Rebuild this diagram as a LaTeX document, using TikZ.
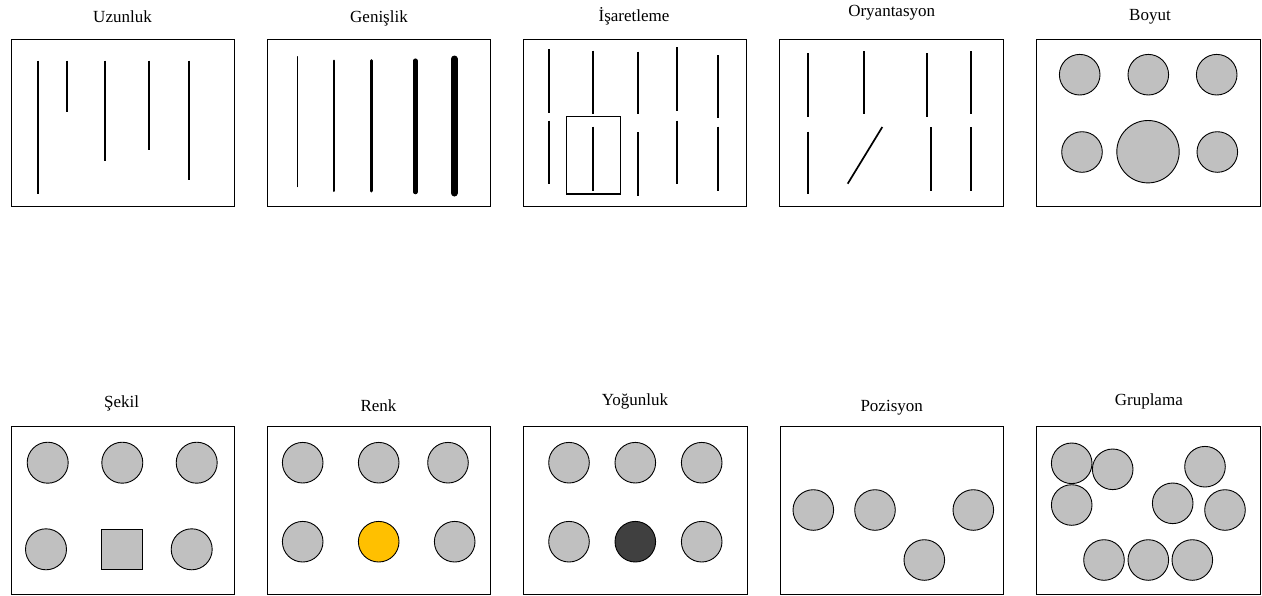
\documentclass[tikz,border=0pt]{standalone}
\usepackage{fontspec}
\setmainfont{Liberation Serif}
\definecolor{dotgray}{HTML}{C0C0C0}
\definecolor{dotyellow}{HTML}{FFC000}
\definecolor{dotdark}{HTML}{404040}

\begin{document}
\begin{tikzpicture}[x=1pt,y=-1pt,
  every node/.style={font=\fontsize{17}{20}\selectfont,inner sep=0pt,anchor=base},
  panel/.style={draw,line width=1pt},
  bar/.style={line width=1.7pt},
  dot/.style={draw,line width=0.9pt,fill=dotgray}]
  \useasboundingbox (0,0) rectangle (1262,595);

  % top row
  \node (tUzun) at (122.5,22.7) {Uzunluk};
  \draw[panel] (11,39) rectangle (234,206);
  \draw[bar] (38.3,60.7) -- (38.3,194);
  \draw[bar] (67,60.7) -- (67,112);
  \draw[bar] (105,60.7) -- (105,161);
  \draw[bar] (149,60.7) -- (149,150);
  \draw[bar] (189,60.7) -- (189,180);

  \node (tGenis) at (379,22) {Genişlik};
  \draw[panel] (267.3,39) rectangle (490.7,206);
  \draw[line width=1pt,line cap=round] (297.7,56.7) -- (297.7,186.7);
  \draw[line width=2pt,line cap=round] (333.7,60.7) -- (333.7,191);
  \draw[line width=3pt,line cap=round] (371,60.7) -- (371,191);
  \draw[line width=4.5pt,line cap=round] (415.3,60.7) -- (415.3,192);
  \draw[line width=7pt,line cap=round] (454.3,59) -- (454.3,193);

  \node (tIsaret) at (634,21.7) {İşaretleme};
  \draw[panel] (523.3,39) rectangle (746.7,206);
  \draw[bar] (549,49.3) -- (549,112.7);
  \draw[bar] (593.3,50.7) -- (593.3,114);
  \draw[bar] (637.7,51.7) -- (637.7,114.3);
  \draw[bar] (676.7,47.3) -- (676.7,110.7);
  \draw[bar] (718.3,55) -- (718.3,118.3);
  \draw[bar] (549,120.7) -- (549,183.7);
  \draw[bar] (593.3,126.7) -- (593.3,190.7);
  \draw[bar] (637.7,132.3) -- (637.7,195.7);
  \draw[bar] (676.7,120.7) -- (676.7,183.7);
  \draw[bar] (718.3,126.7) -- (718.3,190.7);
  \draw[line width=1.4pt] (566.7,116.3) rectangle (620.3,194);

  \node (tOryan) at (891.7,16.5) {Oryantasyon};
  \draw[panel] (779.3,39) rectangle (1003,206);
  \draw[bar] (807.7,53.3) -- (807.7,116.7);
  \draw[bar] (864.3,51) -- (864.3,114.3);
  \draw[bar] (926.7,53.3) -- (926.7,116.7);
  \draw[bar] (970.7,51) -- (970.7,114.3);
  \draw[bar] (807.7,131.7) -- (807.7,194.3);
  \draw[bar] (847.7,183.7) -- (882.3,127);
  \draw[bar] (930.7,127) -- (930.7,190.7);
  \draw[bar] (970.7,127) -- (970.7,190.7);

  \node (tBoyut) at (1150,20.7) {Boyut};
  \draw[panel] (1036,39) rectangle (1260.5,206);
  \draw[dot] (1079.7,74.7) circle[radius=20.3pt];
  \draw[dot] (1148.3,74.7) circle[radius=20.3pt];
  \draw[dot] (1216.7,74.7) circle[radius=20.3pt];
  \draw[dot] (1082,152) circle[radius=20.3pt];
  \draw[dot] (1148,151.7) circle[radius=31.2pt];
  \draw[dot] (1217.3,152) circle[radius=20.3pt];

  % bottom row
  \node (tSekil) at (121.7,407.7) {Şekil};
  \draw[panel] (11,426.7) rectangle (234,594.3);
  \draw[dot] (47.7,462.7) circle[radius=20.5pt];
  \draw[dot] (122.3,462.7) circle[radius=20.5pt];
  \draw[dot] (196.7,462.7) circle[radius=20.5pt];
  \draw[dot] (46,549.3) circle[radius=20.5pt];
  \draw[dot] (101.7,529.3) rectangle (142.7,569.3);
  \draw[dot] (191.7,549.3) circle[radius=20.5pt];

  \node (tRenk) at (378.5,411) {Renk};
  \draw[panel] (267.3,426.7) rectangle (490.7,594.3);
  \draw[dot] (302.7,462.7) circle[radius=20.3pt];
  \draw[dot] (378.7,462.7) circle[radius=20.3pt];
  \draw[dot] (448,462.7) circle[radius=20.3pt];
  \draw[dot] (302.7,541.7) circle[radius=20.3pt];
  \draw[dot,fill=dotyellow] (378.7,541.7) circle[radius=20.3pt];
  \draw[dot] (454.7,541.7) circle[radius=20.3pt];

  \node (tYogun) at (635,405) {Yoğunluk};
  \draw[panel] (523.3,426.7) rectangle (747,594.3);
  \draw[dot] (569,462.7) circle[radius=20.3pt];
  \draw[dot] (635.3,462.7) circle[radius=20.3pt];
  \draw[dot] (701.7,462.7) circle[radius=20.3pt];
  \draw[dot] (569,541.7) circle[radius=20.3pt];
  \draw[dot,fill=dotdark] (635.3,541.7) circle[radius=20.3pt];
  \draw[dot] (701.7,541.7) circle[radius=20.3pt];

  \node (tPozis) at (891.7,411) {Pozisyon};
  \draw[panel] (780,426.7) rectangle (1003.3,594.3);
  \draw[dot] (813.3,510) circle[radius=20.3pt];
  \draw[dot] (875,510) circle[radius=20.3pt];
  \draw[dot] (973.3,510) circle[radius=20.3pt];
  \draw[dot] (924.3,560) circle[radius=20.3pt];

  \node (tGrup) at (1148.8,405.7) {Gruplama};
  \draw[panel] (1036.7,426.7) rectangle (1260.5,594.3);
  \draw[dot] (1071.7,463.3) circle[radius=20.3pt];
  \draw[dot] (1112.7,469.3) circle[radius=20.3pt];
  \draw[dot] (1071.7,505) circle[radius=20.3pt];
  \draw[dot] (1205,466.7) circle[radius=20.3pt];
  \draw[dot] (1172.7,503.3) circle[radius=20.3pt];
  \draw[dot] (1225,510) circle[radius=20.3pt];
  \draw[dot] (1104,560) circle[radius=20.3pt];
  \draw[dot] (1148.3,560) circle[radius=20.3pt];
  \draw[dot] (1192.3,560) circle[radius=20.3pt];
\end{tikzpicture}
\end{document}
